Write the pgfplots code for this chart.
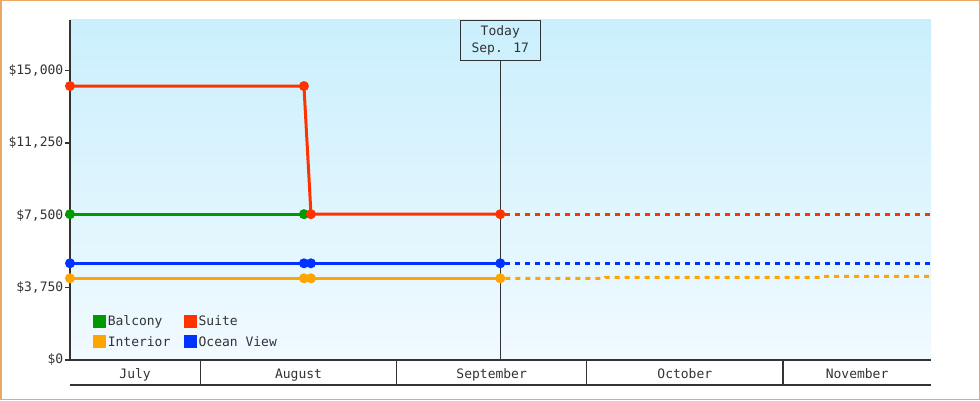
\documentclass[border=0pt]{standalone}
\usepackage{pgfplots}
\pgfplotsset{compat=1.18}
\usepackage{fontspec}
\setmainfont{DejaVu Sans Mono}
\definecolor{cGreen}{HTML}{009900}
\definecolor{cRed}{HTML}{FF3300}
\definecolor{cOrange}{HTML}{FFA500}
\definecolor{cBlue}{HTML}{0033FF}
\definecolor{cAxis}{HTML}{333333}
\definecolor{cBorder}{HTML}{E9A964}
\definecolor{bgTop}{HTML}{CAEFFD}
\definecolor{bgBot}{HTML}{F1FAFF}
\begin{document}
\begin{tikzpicture}[x=1pt,y=1pt]
\useasboundingbox (0,0) rectangle (980,400);
\draw[cBorder, line width=1.5pt] (0.75,0.75) rectangle (979.25,399.25);
\begin{axis}[
  at={(70pt,40pt)}, anchor=south west,
  width=861pt, height=340pt, scale only axis,
  xmin=10.42, xmax=146.37, ymin=0, ymax=17625,
  clip=false,
  scaled y ticks=false,
  axis lines*=left,
  axis line style={-, cAxis},
  y axis line style={line width=2pt},
  x axis line style={line width=1.3pt},
  axis background/.style={top color=bgTop, bottom color=bgBot, draw=none},
  ytick={0,3750,7500,11250,15000},
  yticklabels={{\$0},{\$3,750},{\$7,500},{\$11,250},{\$15,000}},
  ytick style={cAxis, line width=1.5pt},
  y tick label style={font=\fontsize{13}{15}\selectfont, text=cAxis, inner sep=1.5pt},
  tick align=outside,
  major tick length=5pt,
  xtick={20.7,46.5,77,107.5,134.7},
  xticklabels={July,August,September,October,November},
  x tick style={draw=none},
  x tick label style={font=\fontsize{13}{15}\selectfont, text=cAxis, anchor=base, inner sep=0pt, yshift=-13pt},
  legend columns=2,
  legend style={at={(0.0267,0.136)}, anchor=north west, draw=none, fill=none,
    font=\fontsize{13}{15}\selectfont, text=cAxis, inner sep=0pt, row sep=6pt,
    nodes={inner sep=1.6pt},
    /tikz/every even column/.append style={column sep=12pt}},
  legend cell align=left,
  legend image code/.code={\fill[#1] (0pt,-5pt) rectangle (10pt,5pt);},
  every axis plot/.append style={line width=3pt, mark=*, mark size=3.4pt, mark options={solid}},
]
% Balcony
\addplot[color=cGreen] coordinates {(10.42,7560) (47.36,7560)};
\addlegendentry{Balcony}
% Suite
\addplot[color=cRed] coordinates {(10.42,14200) (47.36,14200) (48.47,7560) (78.36,7560)};
\addlegendentry{Suite}
% Interior
\addplot[color=cOrange] coordinates {(10.42,4235) (47.36,4235) (48.47,4235) (78.36,4235)};
\addlegendentry{Interior}
% Ocean View
\addplot[color=cBlue] coordinates {(10.42,5013) (47.36,5013) (48.47,5013) (78.36,5013)};
\addlegendentry{Ocean View}
% projections
\addplot[forget plot, color=cRed, no marks, dash pattern=on 5pt off 5pt, dash phase=-5pt] coordinates {(78.36,7560) (146.37,7560)};
\addplot[forget plot, color=cOrange, no marks, dash pattern=on 5pt off 5pt, dash phase=-5pt] coordinates {(78.36,4235) (94.85,4235) (94.95,4287) (129.25,4287) (129.35,4339) (146.37,4339)};
\addplot[forget plot, color=cBlue, no marks, dash pattern=on 5pt off 5pt, dash phase=-5pt] coordinates {(78.36,5013) (146.37,5013)};
% month band separators and bottom line
\draw[cAxis, line width=1.3pt] (axis cs:31,0) -- ([yshift=-25pt]axis cs:31,0);
\draw[cAxis, line width=1.3pt] (axis cs:62,0) -- ([yshift=-25pt]axis cs:62,0);
\draw[cAxis, line width=1.3pt] (axis cs:92,0) -- ([yshift=-25pt]axis cs:92,0);
\draw[cAxis, line width=1.3pt] (axis cs:123,0) -- ([yshift=-25pt]axis cs:123,0);
\draw[cAxis, line width=1.3pt] ([yshift=-25pt]rel axis cs:0,0) -- ([yshift=-25pt]rel axis cs:1,0);
% today marker
\node[draw=cAxis, line width=1pt, anchor=north, minimum width=80pt, minimum height=40pt,
  align=center, inner sep=0pt, font=\fontsize{13}{17}\selectfont, text=cAxis] (today)
  at (axis cs:78.36,17625) {Today\\Sep. 17};
\draw[cAxis, line width=1pt] (today.south) -- (axis cs:78.36,0);
\end{axis}
\end{tikzpicture}
\end{document}
